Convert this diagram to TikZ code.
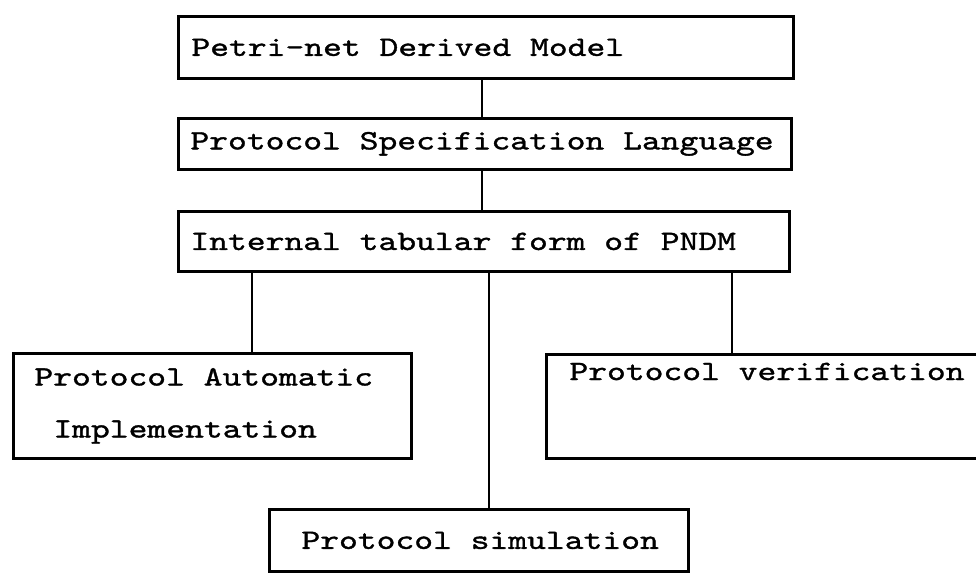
\documentclass[tikz,border=0pt]{standalone}
\usepackage{fontspec}
\setmainfont{lmmono10-regular.otf}[FakeStretch=1.28,FakeBold=1.2]
\begin{document}
\begin{tikzpicture}[x=1pt,y=-1pt,
  box/.style={draw=black, line width=2.8pt, rectangle, anchor=north west, inner ysep=0pt, align=left,
    font=\fontsize{28}{34}\selectfont, execute at begin node={\spaceskip=18.8pt\relax}},
  link/.style={draw=black, line width=2pt}]
\useasboundingbox[fill=white] (0,0) rectangle (976,574);
\node[box, minimum width=615pt, minimum height=62pt, inner xsep=13pt, text width=589pt] (pndm) at (177,15) {\mbox{Petri-net Derived Model}};
\node[box, minimum width=613pt, minimum height=51pt, inner xsep=12pt, text width=589pt] (psl) at (177,117) {\mbox{Protocol Specification Language}};
\node[box, minimum width=611pt, minimum height=60pt, inner xsep=12pt, text width=587pt] (itf) at (177,210) {\mbox{Internal tabular form of PNDM}};
\node[box, minimum width=398pt, minimum height=105pt, inner xsep=21pt, text width=356pt,
  font=\fontsize{28}{52}\selectfont] (auto) at (12,352) {\mbox{Protocol Automatic}\\\mbox{\hspace*{19pt}Implementation}};
\node[box, minimum width=440pt, minimum height=104pt, inner xsep=23pt, text width=394pt,
  font=\fontsize{28}{70}\selectfont] (verif) at (545,353) {\mbox{Protocol verification}\\\mbox{}};
\node[box, minimum width=419pt, minimum height=62pt, inner xsep=32pt, text width=355pt] (sim) at (268,508) {\mbox{Protocol simulation}};
\coordinate (cx) at (482,0);
\coordinate (cl) at (252,0);
\coordinate (cm) at (489,0);
\coordinate (cr) at (732,0);
\draw[link] (pndm.south -| cx) -- (psl.north -| cx);
\draw[link] (psl.south -| cx) -- (itf.north -| cx);
\draw[link] (itf.south -| cl) -- (auto.north -| cl);
\draw[link] (itf.south -| cm) -- (sim.north -| cm);
\draw[link] (itf.south -| cr) -- (verif.north -| cr);
\end{tikzpicture}
\end{document}
